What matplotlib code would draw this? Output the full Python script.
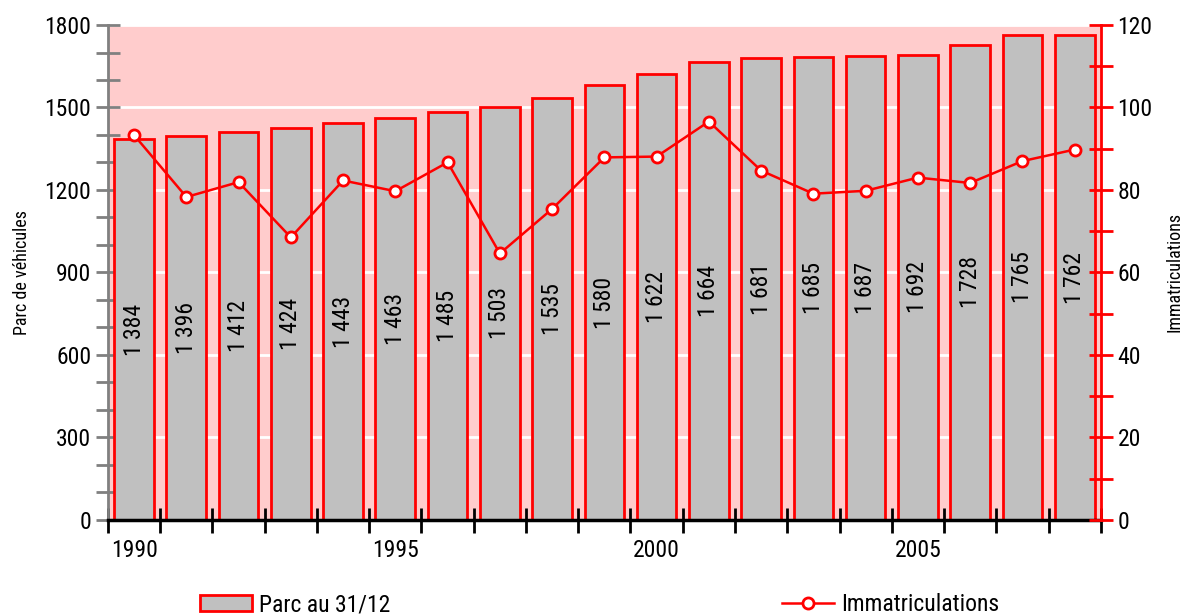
import numpy as np
import matplotlib
matplotlib.use("Agg")
import matplotlib.pyplot as plt
from matplotlib.lines import Line2D
from matplotlib.patches import Patch

plt.rcParams['font.family'] = ['Roboto Condensed', 'DejaVu Sans']

years = list(range(1990, 2009))
parc = [1384, 1396, 1412, 1424, 1443, 1463, 1485, 1503, 1535, 1580,
        1622, 1664, 1681, 1685, 1687, 1692, 1728, 1765, 1762]
immat = [93.3, 78.3, 81.9, 68.5, 82.3, 79.7, 86.7, 64.6, 75.4, 87.9,
         88.1, 96.6, 84.7, 79.1, 79.8, 83.0, 81.7, 87.0, 89.8]
year_labels = [1990, 1995, 2000, 2005]

RED = '#FF0000'
PINK = '#FFCCCC'
GREY = '#C0C0C0'

fig = plt.figure(figsize=(11.89, 6.16), dpi=100)
ax = fig.add_axes([0.0908, 0.156, 0.835, 0.8034])
ax.set_facecolor(PINK)

x = np.arange(len(years))
ax.bar(x, parc, width=0.76, color=GREY, edgecolor=RED, linewidth=2, zorder=2)
for xi, v in zip(x, parc):
    ax.text(xi, v / 2, f"{v:,}".replace(',', ' '), rotation=90,
            ha='center', va='center', fontsize=17, zorder=3)

ax.set_xlim(-0.5, len(years) - 0.5)
ax.set_ylim(0, 1800)
ax.set_yticks(np.arange(0, 1801, 300))
ax.set_yticks(np.arange(0, 1801, 100), minor=True)
ax.tick_params(axis='y', which='both', direction='inout', colors='#808080',
               length=17, width=2, labelcolor='black', labelsize=17)
ax.yaxis.grid(True, color='white', linewidth=2)
ax.set_axisbelow(True)

ax.set_xticks([years.index(y) for y in year_labels])
ax.set_xticklabels([str(y) for y in year_labels])
ax.set_xticks(np.arange(-0.5, len(years), 1), minor=True)
ax.tick_params(axis='x', which='major', length=0, labelsize=17, pad=14)
ax.tick_params(axis='x', which='minor', direction='inout', length=18,
               width=2, color='black')

ax.spines['top'].set_visible(False)
ax.spines['right'].set_visible(False)
ax.spines['left'].set_color('#808080')
ax.spines['left'].set_linewidth(2)
ax.spines['bottom'].set_color('black')
ax.spines['bottom'].set_linewidth(2.5)
ax.spines['bottom'].set_zorder(5)
ax.set_ylabel("Parc de véhicules", fontsize=13, labelpad=10)

ax2 = ax.twinx()
ax2.plot(x, immat, color=RED, linewidth=1.8, marker='o', markersize=8,
         markerfacecolor='white', markeredgecolor=RED, markeredgewidth=2,
         zorder=4)
ax2.set_ylim(0, 120)
ax2.set_yticks(np.arange(0, 121, 20))
ax2.set_yticks(np.arange(0, 121, 10), minor=True)
ax2.tick_params(axis='y', which='both', direction='inout', colors=RED,
                length=17, width=2, labelcolor='black', labelsize=17)
for s in ['top', 'left', 'bottom']:
    ax2.spines[s].set_visible(False)
ax2.spines['right'].set_color(RED)
ax2.spines['right'].set_linewidth(2)
ax2.set_ylabel("Immatriculations", fontsize=13, labelpad=9)

handles = [Patch(facecolor=GREY, edgecolor=RED, linewidth=2),
           Line2D([], [], color=RED, linewidth=1.8, marker='o', markersize=8,
                  markerfacecolor='white', markeredgecolor=RED, markeredgewidth=2)]
fig.legend(handles, ["Parc au 31/12", "Immatriculations"], ncol=2,
           loc='center', bbox_to_anchor=(0.504, 0.018), frameon=False,
           fontsize=17, columnspacing=16.6, handlelength=2.2, handletextpad=0.3)

fig.savefig("out.png", dpi=100)
